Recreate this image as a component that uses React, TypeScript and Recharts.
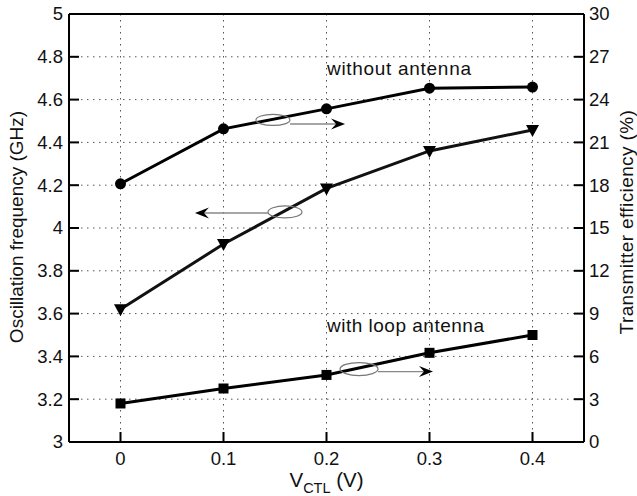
import React from 'react';
import {
  ComposedChart, Line, XAxis, YAxis, CartesianGrid, ReferenceLine, ReferenceDot,
} from 'recharts';

// ---- data ----
const vctl = [0, 0.1, 0.2, 0.3, 0.4];
// oscillation frequency (GHz), left axis, down-triangles
const freqGHz = [3.62, 3.925, 4.185, 4.36, 4.458];
// transmitter efficiency (%), right axis
const effWithoutAntenna = [18.1, 21.95, 23.35, 24.8, 24.88];
const effWithLoop = [2.7, 3.75, 4.7, 6.25, 7.5];

const xTicks = [0, 0.1, 0.2, 0.3, 0.4];
const leftTicks = [3, 3.2, 3.4, 3.6, 3.8, 4, 4.2, 4.4, 4.6, 4.8, 5];
const rightTicks = [0, 3, 6, 9, 12, 15, 18, 21, 24, 27, 30];
const X_MIN = -0.05;
const X_MAX = 0.45;

const data = vctl.map((v, i) => ({
  v,
  freq: freqGHz[i],
  effNo: effWithoutAntenna[i],
  effLoop: effWithLoop[i],
}));

const FONT = '"Liberation Sans", Arial, Helvetica, sans-serif';
const fmt = (v: number) => String(+Number(v).toFixed(2));

const LeftTick = (p: any) => (
  <text x={p.x} y={p.y} dy="0.35em" textAnchor="end" fontSize={18.5} fontFamily={FONT} fill="#111">
    {fmt(p.payload.value)}
  </text>
);

const RightTick = (p: any) => (
  <text x={p.x} y={p.y} dy="0.35em" textAnchor="start" fontSize={18.5} fontFamily={FONT} fill="#111">
    {fmt(p.payload.value)}
  </text>
);

const BottomTick = (p: any) => (
  <text x={p.x} y={p.y} dy="0.71em" textAnchor="middle" fontSize={18.5} fontFamily={FONT} fill="#111">
    {fmt(p.payload.value)}
  </text>
);

const CircleDot = (p: any) => (
  <circle key={`c${p.index}`} cx={p.cx} cy={p.cy} r={5.5} fill="#000" />
);
const SquareDot = (p: any) => (
  <rect key={`s${p.index}`} x={p.cx - 5} y={p.cy - 5} width={10} height={10} fill="#000" />
);
const TriDot = (p: any) => (
  <path
    key={`t${p.index}`}
    d={`M${p.cx - 6.5},${p.cy - 5} L${p.cx + 6.5},${p.cy - 5} L${p.cx},${p.cy + 7} Z`}
    fill="#000"
  />
);

// inward tick marks (drawn as thin filled rectangles)
const tickMark = (dx: number, dy: number) => (p: any) => {
  const w = dx !== 0 ? Math.abs(dx) : 2;
  const h = dy !== 0 ? Math.abs(dy) : 2;
  const x = dx < 0 ? p.cx + dx : dx > 0 ? p.cx : p.cx - 1;
  const y = dy < 0 ? p.cy + dy : dy > 0 ? p.cy : p.cy - 1;
  return <rect x={x} y={y} width={w} height={h} fill="#000" />;
};

const ellipseShape = (rx: number, ry: number) => (p: any) => (
  <ellipse cx={p.cx} cy={p.cy} rx={rx} ry={ry} fill="none" stroke="#777" strokeWidth={1.2} />
);

// arrow: anchored at the tip, drawn with given length and direction
const arrowShape = (len: number, dir: 1 | -1) => (p: any) => {
  const tx = p.cx;
  const ty = p.cy;
  const sx = tx - dir * len;
  return (
    <g>
      <line x1={sx} y1={ty} x2={tx - dir * 8} y2={ty} stroke="#888" strokeWidth={1.3} />
      <path
        d={`M${tx},${ty} L${tx - dir * 14},${ty - 5.5} L${tx - dir * 9},${ty} L${tx - dir * 14},${ty + 5.5} Z`}
        fill="#000"
      />
    </g>
  );
};

const textShape = (label: string, spacing: number) => (p: any) => (
  <text x={p.cx} y={p.cy} fontSize={19} fontFamily={FONT} fill="#111" letterSpacing={spacing}>
    {label}
  </text>
);

const LeftLabel = (p: any) => {
  const vb = p.viewBox;
  const cx = vb.x + 23;
  const cy = 227;
  return (
    <text x={cx} y={cy} transform={`rotate(-90 ${cx} ${cy})`} textAnchor="middle"
      fontSize={19} fontFamily={FONT} fill="#111">
      Oscillation frequency (GHz)
    </text>
  );
};

const RightLabel = (p: any) => {
  const vb = p.viewBox;
  const cx = vb.x + vb.width - 4;
  const cy = 222;
  return (
    <text x={cx} y={cy} transform={`rotate(-90 ${cx} ${cy})`} textAnchor="middle"
      fontSize={19} fontFamily={FONT} fill="#111" letterSpacing={0.4}>
      Transmitter efficiency (%)
    </text>
  );
};

const BottomLabel = (p: any) => {
  const vb = p.viewBox;
  const cx = vb.x + vb.width / 2;
  return (
    <text x={cx} y={vb.y + 45} textAnchor="middle" fontSize={20.5} fontFamily={FONT} fill="#111">
      V<tspan fontSize={14.5} dy={6}>CTL</tspan><tspan dy={-6}> (V)</tspan>
    </text>
  );
};

const AXIS_LINE = { stroke: '#000', strokeWidth: 2 };
const NO_TICK_LINE = { stroke: 'none' };

export default function App() {
  return (
    <div style={{ position: 'absolute', left: 0, top: 0, background: '#fff' }}>
      <ComposedChart width={637} height={496} data={data}
        margin={{ top: 14, right: 0, bottom: 0, left: 0 }}>
        <CartesianGrid yAxisId="left" stroke="#555" strokeDasharray="1.5 4.5" strokeWidth={1} />
        <XAxis dataKey="v" type="number" domain={[X_MIN, X_MAX]} ticks={xTicks}
          height={54} tickSize={8} tickMargin={2} tickLine={NO_TICK_LINE}
          axisLine={AXIS_LINE} tick={BottomTick}
          label={<BottomLabel />} allowDataOverflow />
        <YAxis yAxisId="left" orientation="left" domain={[3, 5]} ticks={leftTicks}
          width={69} tickSize={6} tickMargin={0} tickLine={NO_TICK_LINE}
          axisLine={AXIS_LINE} tick={LeftTick}
          label={<LeftLabel />} allowDataOverflow />
        <YAxis yAxisId="right" orientation="right" domain={[0, 30]} ticks={rightTicks}
          width={53} tickSize={5} tickMargin={0} tickLine={NO_TICK_LINE}
          axisLine={AXIS_LINE} tick={RightTick}
          label={<RightLabel />} allowDataOverflow />
        <ReferenceLine yAxisId="left" y={5} stroke="#000" strokeWidth={2} />

        {leftTicks.map((t) => (
          <ReferenceDot key={`lt${t}`} yAxisId="left" x={X_MIN} y={t} r={0}
            shape={tickMark(10, 0)} />
        ))}
        {rightTicks.map((t) => (
          <ReferenceDot key={`rt${t}`} yAxisId="right" x={X_MAX} y={t} r={0}
            shape={tickMark(-10, 0)} />
        ))}
        {xTicks.map((t) => (
          <ReferenceDot key={`xt${t}`} yAxisId="left" x={t} y={3} r={0}
            shape={tickMark(0, -10)} />
        ))}

        <Line yAxisId="right" dataKey="effNo" stroke="#000" strokeWidth={3}
          dot={CircleDot} isAnimationActive={false} />
        <Line yAxisId="left" dataKey="freq" stroke="#111" strokeWidth={3}
          dot={TriDot} isAnimationActive={false} />
        <Line yAxisId="right" dataKey="effLoop" stroke="#000" strokeWidth={3}
          dot={SquareDot} isAnimationActive={false} />

        {/* annotation: without antenna -> right axis */}
        <ReferenceDot yAxisId="left" x={0.148} y={4.505} r={0} shape={ellipseShape(17, 5.5)} />
        <ReferenceDot yAxisId="left" x={0.218} y={4.486} r={0} shape={arrowShape(55, 1)} />
        {/* annotation: frequency -> left axis */}
        <ReferenceDot yAxisId="left" x={0.1597} y={4.075} r={0} shape={ellipseShape(17, 6)} />
        <ReferenceDot yAxisId="left" x={0.0723} y={4.07} r={0} shape={arrowShape(73, -1)} />
        {/* annotation: with loop antenna -> right axis */}
        <ReferenceDot yAxisId="left" x={0.2316} y={3.341} r={0} shape={ellipseShape(19, 6.5)} />
        <ReferenceDot yAxisId="left" x={0.3034} y={3.329} r={0} shape={arrowShape(55, 1)} />

        <ReferenceDot yAxisId="left" x={0.2005} y={4.715} r={0} shape={textShape('without antenna', 0.7)} />
        <ReferenceDot yAxisId="left" x={0.2005} y={3.514} r={0} shape={textShape('with loop antenna', 0.5)} />
      </ComposedChart>
    </div>
  );
}
